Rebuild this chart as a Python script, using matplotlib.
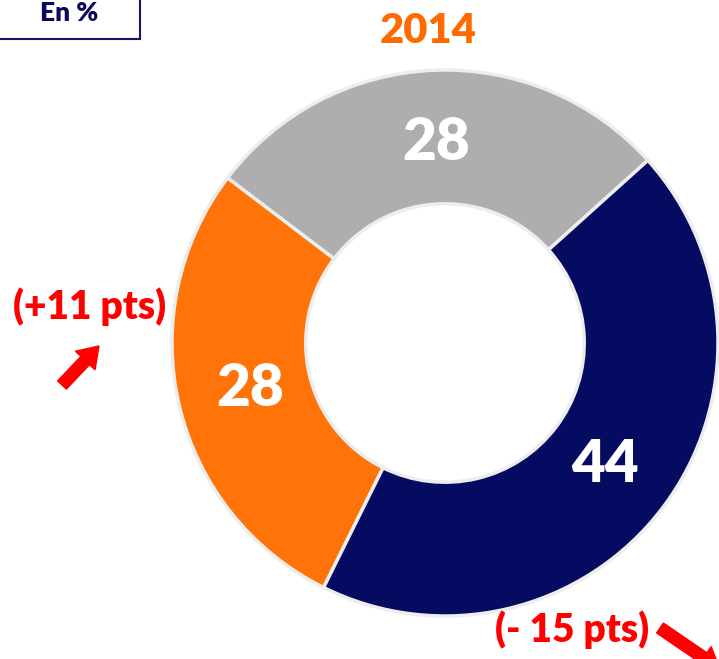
import numpy as np
import matplotlib
matplotlib.use("Agg")
import matplotlib.pyplot as plt
from matplotlib.patches import Rectangle, FancyArrow

plt.rcParams['font.family'] = ['Lato', 'DejaVu Sans']

# Data
year = "2014"
unit_label = "En %"
values = [28, 28, 44]
colors = ['#AEAEAE', '#FF7308', '#060B62']
changes = ["(+11 pts)", "(- 15 pts)"]

W, H = 719, 659
fig = plt.figure(figsize=(W / 100, H / 100), dpi=100)

# donut axes, placed in pixel terms
cx, cy, R = 445, 343, 273
ax = fig.add_axes([(cx - R) / W, 1 - (cy + R) / H, 2 * R / W, 2 * R / H])
wedges, _ = ax.pie(values, colors=colors, startangle=42, counterclock=True,
                   radius=1, wedgeprops=dict(width=0.49, edgecolor='#EDEDED', linewidth=2.5))
ax.set_xlim(-1, 1)
ax.set_ylim(-1, 1)
ax.set_aspect('equal')
ax.axis('off')

for w, v in zip(wedges, values):
    mid = np.deg2rad((w.theta1 + w.theta2) / 2)
    r = 0.735
    ax.text(r * np.cos(mid), r * np.sin(mid), str(v), color='white',
            fontsize=42, fontweight='heavy', ha='center', va='center')

# overlay for annotations (pixel coords, y down)
ov = fig.add_axes([0, 0, 1, 1])
ov.set_xlim(0, W)
ov.set_ylim(H, 0)
ov.axis('off')
ov.patch.set_alpha(0)

ov.add_patch(Rectangle((-3, -3), 143, 42, facecolor='white', edgecolor='#14146A', linewidth=1.5))
ov.text(69, 13, unit_label, color='#0A0A5A', fontsize=19, fontweight='heavy', ha='center', va='center')

ov.text(428, 31, year, color='#FF6A00', fontsize=30, fontweight='heavy', ha='center', va='center')

ov.text(90, 307, changes[0], color='#FF0000', fontsize=28, fontweight='heavy', ha='center', va='center')
ov.text(572, 630, changes[1], color='#FF0000', fontsize=28, fontweight='heavy', ha='center', va='center')

ov.add_patch(FancyArrow(62, 385, 37, -39, width=12, head_width=27, head_length=20,
                        length_includes_head=True, color='#FF0000'))
ov.add_patch(FancyArrow(660, 628, 60, 41, width=12, head_width=27, head_length=20,
                        length_includes_head=True, color='#FF0000'))

fig.savefig("out.png", dpi=100)
